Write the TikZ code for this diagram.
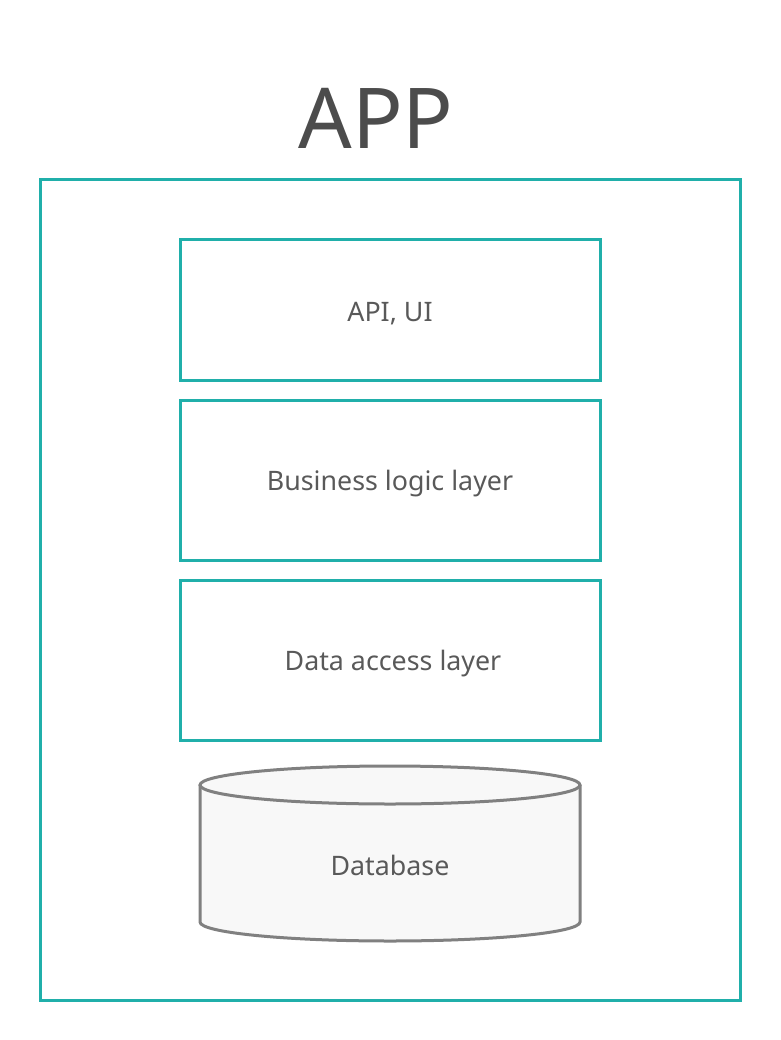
\documentclass[tikz,border=0pt]{standalone}
\usepackage{fontspec}
\setmainfont{Noto Sans}
\definecolor{teal}{HTML}{20AFAA}
\definecolor{dbline}{HTML}{808080}
\definecolor{dbfill}{HTML}{F8F8F8}
\definecolor{txt}{HTML}{595959}
\tikzset{
  layer/.style={draw=teal, line width=3pt},
  label text/.style={text=txt, font=\fontsize{26.8}{30}\selectfont, yshift=-4pt}
}
\begin{document}
\begin{tikzpicture}[x=1pt, y=-1pt]
      \useasboundingbox (0,0) rectangle (780,1040);
      \node [text=black!70, font=\fontsize{84}{90}\selectfont] (title) at (376,118) {APP};
      \draw [layer] (40,180) rectangle (740,1000);
      \draw [layer] (180,240) rectangle node[label text] (api) {API, UI} (600,380);
      \draw [layer] (180,400) rectangle node[label text] (bll) {Business logic layer} (600,560);
      \draw [layer] (180,580) rectangle node[label text, xshift=3pt] (dal) {Data access layer} (600,740);
      \fill [dbfill] (200,785) -- (200,922) arc[start angle=180, end angle=0, x radius=190, y radius=19] -- (580,785) -- cycle;
      \draw [dbline, line width=3pt, fill=dbfill] (390,785) ellipse[x radius=190, y radius=19];
      \draw [dbline, line width=3pt] (200,785) -- (200,922) arc[start angle=180, end angle=0, x radius=190, y radius=19] -- (580,785);
      \node [label text] (db) at (390,861) {Database};
    \end{tikzpicture}
\end{document}
